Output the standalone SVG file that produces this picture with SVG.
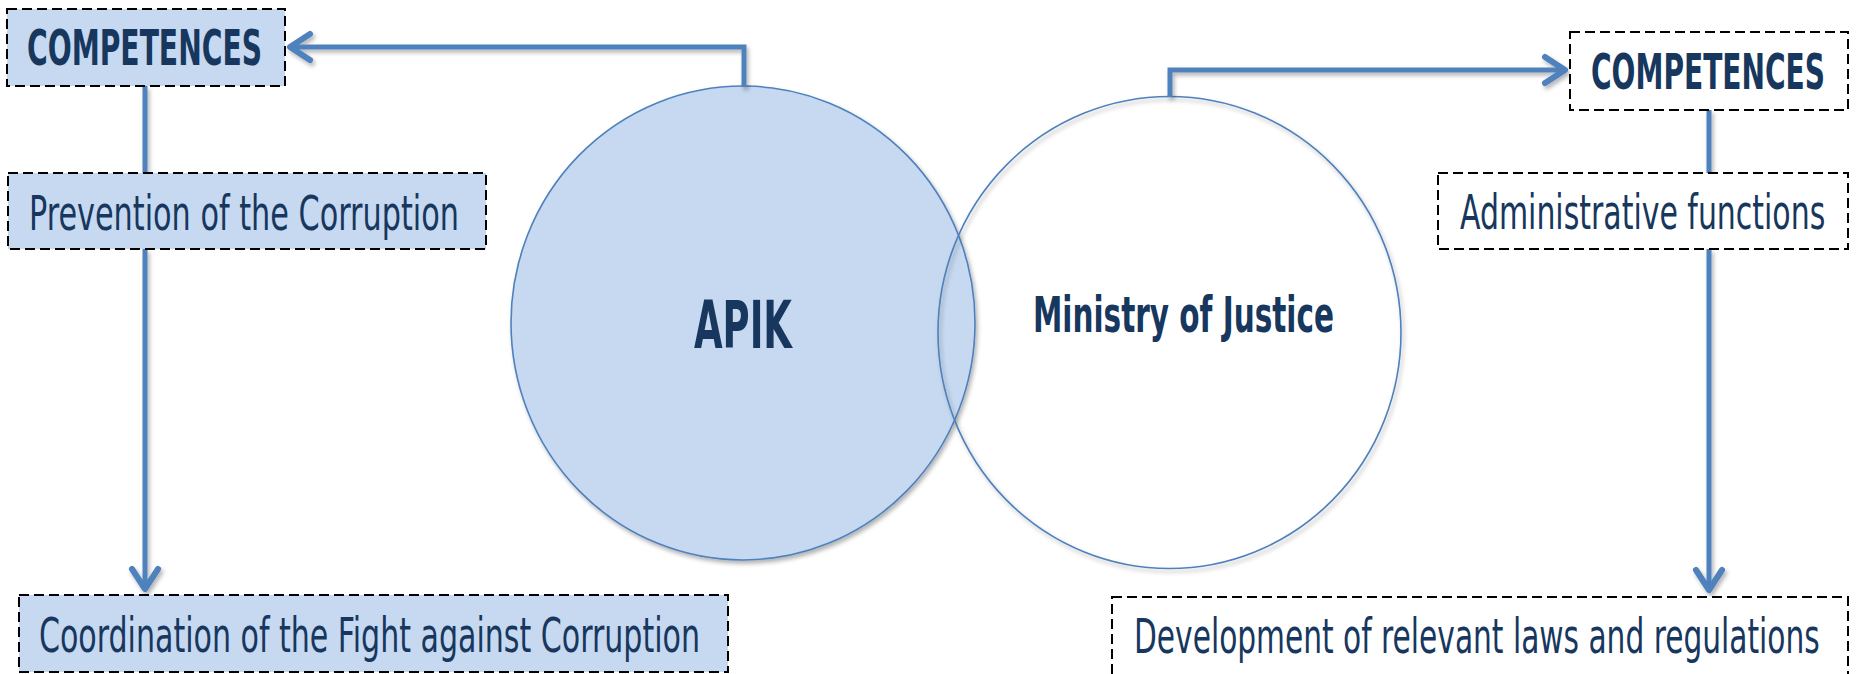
<svg xmlns="http://www.w3.org/2000/svg" width="1858" height="674" viewBox="0 0 1858 674">
<style>
.box{stroke:#000;stroke-width:2;stroke-dasharray:10 5}
.blue{fill:#c6d9f0}
.white{fill:#fff}
.t{font-family:"Liberation Sans Narrow","DejaVu Sans Condensed","Liberation Sans",sans-serif;fill:#17375e}
.m{text-anchor:middle}
.b{font-weight:bold}
.conn{stroke:#4f81bd;stroke-width:5;fill:none}
.ell{stroke:#4f81bd;stroke-width:1.6}
</style>
<defs>
<filter id="sh" x="-10%" y="-10%" width="130%" height="130%">
<feDropShadow dx="2" dy="3" stdDeviation="2" flood-color="#000" flood-opacity="0.3"/>
</filter>
<marker id="arr" markerUnits="userSpaceOnUse" markerWidth="40" markerHeight="40" viewBox="-30 -20 40 40" refX="0" refY="0" orient="auto">
<path d="M -20 -13 L 0 0 L -20 13" fill="none" stroke="#4f81bd" stroke-width="6" stroke-linecap="round" stroke-linejoin="round"/>
</marker>
</defs>
<rect width="1858" height="674" fill="#fff"/>
<g id="apik">
<ellipse class="ell blue" cx="743" cy="323" rx="232" ry="237" filter="url(#sh)"/>
<text class="t b m" x="743" y="348" font-size="66" textLength="98" lengthAdjust="spacingAndGlyphs">APIK</text>
</g>
<g id="moj">
<ellipse class="ell" fill="none" cx="1169.5" cy="332.5" rx="231.5" ry="236" filter="url(#sh)"/>
<text class="t b m" x="1183.5" y="332" font-size="50" textLength="301" lengthAdjust="spacingAndGlyphs">Ministry of Justice</text>
</g>
<g id="connectors" filter="url(#sh)">
<polyline class="conn" points="744,87 744,47 290,47" marker-end="url(#arr)"/>
<polyline class="conn" points="1170,97 1170,70 1565,70" marker-end="url(#arr)"/>
<line class="conn" x1="145" y1="86" x2="145" y2="173"/>
<line class="conn" x1="145" y1="249" x2="145" y2="589" marker-end="url(#arr)"/>
<line class="conn" x1="1709" y1="110" x2="1709" y2="173"/>
<line class="conn" x1="1709" y1="249" x2="1709" y2="590" marker-end="url(#arr)"/>
</g>
<g id="competences-left">
<rect class="box blue" x="7" y="9" width="278" height="77"/>
<text class="t b" x="27" y="65" font-size="50" textLength="235" lengthAdjust="spacingAndGlyphs">COMPETENCES</text>
</g>
<g id="prevention">
<rect class="box blue" x="8" y="173" width="478" height="76"/>
<text class="t" x="29" y="230" font-size="48" textLength="430" lengthAdjust="spacingAndGlyphs">Prevention of the Corruption</text>
</g>
<g id="coordination">
<rect class="box blue" x="19" y="595" width="709" height="77"/>
<text class="t" x="39" y="652" font-size="48" textLength="661" lengthAdjust="spacingAndGlyphs">Coordination of the Fight against Corruption</text>
</g>
<g id="competences-right">
<rect class="box white" x="1570" y="32" width="278" height="78"/>
<text class="t b" transform="translate(1591 89) scale(0.5 1)" x="0" y="0" font-size="50" textLength="468" lengthAdjust="spacingAndGlyphs">COMPETENCES</text>
</g>
<g id="administrative">
<rect class="box white" x="1438" y="173" width="410" height="76"/>
<text class="t" transform="translate(1460 229) scale(0.75 1)" x="0" y="0" font-size="48" textLength="487" lengthAdjust="spacingAndGlyphs">Administrative functions</text>
</g>
<g id="development">
<rect class="box white" x="1112" y="597" width="736" height="90"/>
<text class="t" transform="translate(1134 653) scale(0.62 1)" x="0" y="0" font-size="48" textLength="1106" lengthAdjust="spacingAndGlyphs">Development of relevant laws and regulations</text>
</g>
</svg>
